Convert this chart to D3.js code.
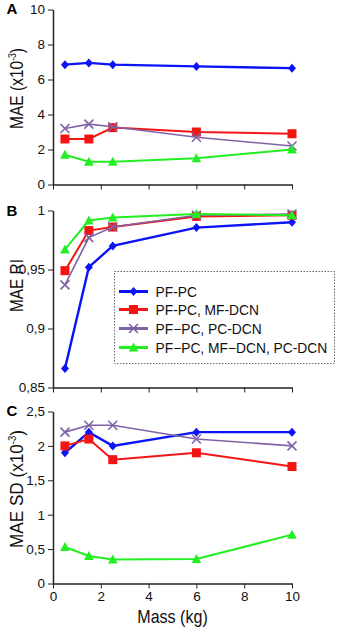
<!DOCTYPE html>
<html>
<head>
<meta charset="utf-8">
<script src="https://cdn.jsdelivr.net/npm/d3@7"></script>
<style>
  body { margin: 0; background: #fff; }
  svg { display: block; font-family: Arial, "Liberation Sans", sans-serif; }
</style>
</head>
<body>
<div id="chart"></div>
<script>
const width = 340, height = 630;

// x values (mass, kg)
const masses = [0.5, 1.5, 2.5, 6, 10];
const xTicks = [0, 2, 4, 6, 8, 10];

const seriesNames = ["PF-PC", "PF-PC, MF-DCN", "PF\u2212PC, PC-DCN", "PF\u2212PC, MF\u2212DCN, PC-DCN"];
const seriesColors = ["#0a14f5", "#f51414", "#7f63a6", "#22ee22"];
const seriesShapes = ["diamond", "square", "cross", "triangle"];

// panel A: MAE (x10^-3)
const maeA = [
  [6.85, 6.95, 6.85, 6.75, 6.65],
  [2.6, 2.6, 3.25, 3.0, 2.9],
  [3.2, 3.45, 3.3, 2.7, 2.2],
  [1.7, 1.3, 1.3, 1.5, 2.0]
];
const ticksA = [0, 2, 4, 6, 8, 10];

// panel B: MAE RI
const maeB = [
  [0.866, 0.952, 0.970, 0.9855, 0.990],
  [0.949, 0.983, 0.986, 0.995, 0.996],
  [0.937, 0.977, 0.986, 0.996, 0.997],
  [0.967, 0.9915, 0.994, 0.997, 0.996]
];
const ticksB = [0.85, 0.9, 0.95, 1];

// panel C: MAE SD (x10^-3)
const maeC = [
  [1.9, 2.2, 2.0, 2.2, 2.2],
  [2.0, 2.1, 1.8, 1.9, 1.7],
  [2.2, 2.3, 2.3, 2.1, 2.0],
  [0.53, 0.40, 0.35, 0.355, 0.71]
];
const ticksC = [0, 0.5, 1, 1.5, 2, 2.5];

const svg = d3.select("#chart").append("svg")
  .attr("width", width)
  .attr("height", height);

const xScale = d3.scaleLinear().domain([0, 10]).range([53, 292]);
const commaFmt = d => String(d).replace(".", ",");

const panels = [
  { letter: "A", letterY: 13.5, data: maeA, domain: [0, 10], range: [184.5, 9.5], ticks: ticksA,
    label: "MAE", sup: true, span: [48, 129], xLabels: false },
  { letter: "B", letterY: 216, data: maeB, domain: [0.85, 1], range: [387.5, 210.5], ticks: ticksB,
    label: "MAE RI", sup: false, span: [259, 312], xLabels: false },
  { letter: "C", letterY: 416, data: maeC, domain: [0, 2.5], range: [583.5, 411.5], ticks: ticksC,
    label: "MAE SD", sup: true, span: [430, 548], xLabels: true }
];

const drawMarker = (g, shape, color) => {
  if (shape === "diamond") {
    g.append("path").attr("d", "M0,-4.5L4,0L0,4.5L-4,0Z").attr("fill", color);
  } else if (shape === "square") {
    g.append("rect").attr("x", -4.5).attr("y", -4.5).attr("width", 9).attr("height", 9).attr("fill", color);
  } else if (shape === "cross") {
    g.append("path").attr("d", "M-4.5,-4.5L4.5,4.5M-4.5,4.5L4.5,-4.5").attr("stroke", color).attr("stroke-width", 1.6).attr("fill", "none");
  } else {
    g.append("path").attr("d", "M0,-5L4.8,4L-4.8,4Z").attr("fill", color);
  }
};

// scale a horizontal-ish text so it fills a given length
const fitText = (sel, len) => {
  const w = sel.node().getComputedTextLength();
  return len / w;
};

panels.forEach(p => {
  const yScale = d3.scaleLinear().domain(p.domain).range(p.range);
  const g = svg.append("g");

  // x axis
  const xAxis = g.append("g")
    .attr("transform", `translate(0, ${p.range[0]})`)
    .call(d3.axisBottom(xScale)
      .tickValues(xTicks)
      .tickSize(5)
      .tickSizeOuter(0)
      .tickFormat(p.xLabels ? d => d : "")
    );
  xAxis.select(".domain").attr("stroke", "#222").attr("stroke-width", 1.5);
  xAxis.selectAll(".tick line").attr("stroke", "#222");
  xAxis.selectAll("text").attr("font-size", 13.5).attr("fill", "#111").attr("font-family", "Arial, 'Liberation Sans', sans-serif");

  // y axis
  const yAxis = g.append("g")
    .attr("transform", `translate(${xScale(0)}, 0)`)
    .call(d3.axisLeft(yScale)
      .tickValues(p.ticks)
      .tickSize(5)
      .tickSizeOuter(0)
      .tickFormat(commaFmt)
    );
  yAxis.select(".domain").attr("stroke", "#222").attr("stroke-width", 1.5);
  yAxis.selectAll(".tick line").attr("stroke", "#222");
  yAxis.selectAll("text").attr("font-size", 13.5).attr("fill", "#111").attr("font-family", "Arial, 'Liberation Sans', sans-serif");

  // panel letter
  g.append("text")
    .attr("x", 6.5)
    .attr("y", p.letterY)
    .attr("font-size", 15)
    .attr("font-weight", "bold")
    .text(p.letter);

  // y label
  const midY = (p.span[0] + p.span[1]) / 2;
  const lbl = g.append("text")
    .attr("text-anchor", "middle")
    .attr("font-size", 18)
    .attr("fill", "#111");
  lbl.append("tspan").text(p.label + (p.sup ? " (x10" : ""));
  if (p.sup) {
    lbl.append("tspan").attr("font-size", 10).attr("dy", -7).text("-3");
    lbl.append("tspan").attr("dy", 7).text(")");
  }
  const k = fitText(lbl, p.span[1] - p.span[0]);
  lbl.attr("transform", `translate(22.5, ${midY}) rotate(-90) scale(${k}, 1)`);

  // lines + markers
  const line = d3.line()
    .x((d, i) => xScale(masses[i]))
    .y(d => yScale(d));

  p.data.forEach((vals, si) => {
    g.append("path")
      .attr("d", line(vals))
      .attr("fill", "none")
      .attr("stroke", seriesColors[si])
      .attr("stroke-width", si === 0 ? 2.4 : si === 2 ? 1.6 : 2);
    vals.forEach((v, i) => {
      const m = g.append("g").attr("transform", `translate(${xScale(masses[i])}, ${yScale(v)})`);
      drawMarker(m, seriesShapes[si], seriesColors[si]);
    });
  });

  if (p.xLabels) {
    const xl = g.append("text")
      .attr("text-anchor", "middle")
      .attr("font-size", 18)
      .attr("fill", "#111")
      .text("Mass (kg)");
    const kx = fitText(xl, 70.5);
    xl.attr("transform", `translate(${(xScale(0) + xScale(10)) / 2}, 623) scale(${kx}, 1)`);
  }
});

// legend in panel B
const legend = svg.append("g");
legend.append("rect")
  .attr("x", 114.5).attr("y", 271.5)
  .attr("width", 220).attr("height", 92)
  .attr("fill", "#fff")
  .attr("stroke", "#666")
  .attr("stroke-dasharray", "1.5,1.5");

const legendY = [291.5, 309.5, 328.5, 347.5];
seriesNames.forEach((name, i) => {
  const row = legend.append("g").attr("transform", `translate(0, ${legendY[i]})`);
  row.append("line")
    .attr("x1", 119).attr("x2", 148)
    .attr("stroke", seriesColors[i])
    .attr("stroke-width", 3);
  const m = row.append("g").attr("transform", "translate(133.5, 0)");
  drawMarker(m, seriesShapes[i], seriesColors[i]);
  row.append("text")
    .attr("x", 155.5)
    .attr("y", 5)
    .attr("font-size", 13.8)
    .attr("fill", "#111")
    .text(name);
});
</script>
</body>
</html>
